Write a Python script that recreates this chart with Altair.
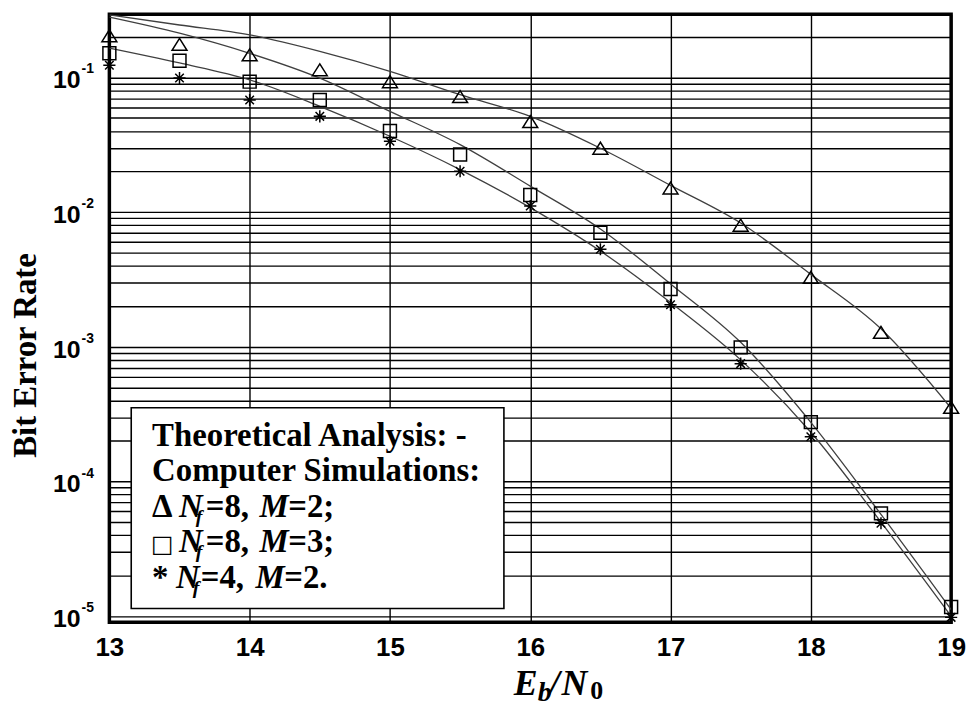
import altair as alt
import pandas as pd

# ---------------- data ----------------
ebn0 = [13, 13.5, 14, 14.5, 15, 15.5, 16, 16.5, 17, 17.5, 18, 18.5, 19]

# theoretical analysis curves
theory_nf8_m2 = [0.291, 0.245, 0.207, 0.156, 0.111, 0.0745, 0.0514, 0.0298,
                 0.0158, 0.0083, 0.00345, 0.00136, 0.00035]
theory_nf8_m3 = [0.28, 0.213, 0.151, 0.0988, 0.056, 0.0317, 0.0156, 0.0075,
                 0.00293, 0.00108, 0.000275, 0.000057, 0.0000112]
theory_nf4_m2 = [0.165, 0.128, 0.096, 0.061, 0.0366, 0.0207, 0.0108, 0.00514,
                 0.00213, 0.00080, 0.000232, 0.000050, 0.0000100]

# computer simulations
sim_nf8_m2 = [0.204, 0.176, 0.147, 0.114, 0.093, 0.072, 0.047, 0.0298,
              0.0151, 0.0080, 0.00328, 0.00128, 0.000355]
sim_nf8_m3 = [0.151, 0.133, 0.093, 0.068, 0.040, 0.0268, 0.0134, 0.00703,
              0.00269, 0.00099, 0.000276, 0.000058, 0.0000117]
sim_nf4_m2 = [0.123, 0.099, 0.068, 0.0514, 0.0336, 0.0201, 0.0111, 0.0053,
              0.00205, 0.00075, 0.000215, 0.000049, 0.0000098]

x_ticks = [13, 14, 15, 16, 17, 18, 19]
y_decades = [1e-1, 1e-2, 1e-3, 1e-4, 1e-5]
y_exponents = ["-1", "-2", "-3", "-4", "-5"]

# ---------------- tables ----------------
theory_df = pd.concat([
    pd.DataFrame({"ebn0": ebn0, "ber": theory_nf8_m2, "curve": "Nf=8, M=2"}),
    pd.DataFrame({"ebn0": ebn0, "ber": theory_nf8_m3, "curve": "Nf=8, M=3"}),
    pd.DataFrame({"ebn0": ebn0, "ber": theory_nf4_m2, "curve": "Nf=4, M=2"}),
])
tri_df = pd.DataFrame({"ebn0": ebn0, "ber": sim_nf8_m2})
sq_df = pd.DataFrame({"ebn0": ebn0, "ber": sim_nf8_m3})
star_df = pd.DataFrame({"ebn0": ebn0, "ber": sim_nf4_m2})
ylab_df = pd.DataFrame({"ber": y_decades, "exp": y_exponents})

W, H = 847, 612
YMIN, YMAX = 9e-6, 0.295
grid_vals = [k * 10.0 ** e for e in range(-5, 0) for k in range(1, 10)
             if YMIN <= k * 10.0 ** e <= YMAX]
grid_vals.append(0.2)

xscale = alt.Scale(domain=[13, 19], nice=False, zero=False)
yscale = alt.Scale(type="log", domain=[YMIN, YMAX], nice=False)

SERIF = "Liberation Serif"
SANS = "Liberation Sans"

x_axis = alt.Axis(values=x_ticks, format="d", grid=True, gridColor="black",
                  gridWidth=1.4, domain=False, ticks=False, labelFlush=False,
                  labelFont=SANS, labelFontWeight="bold", labelFontSize=26,
                  labelColor="black", labelPadding=12, title=None)
y_axis = alt.Axis(values=grid_vals, grid=True, gridColor="black", gridWidth=1.4,
                  domain=False, ticks=False, labels=False,
                  title="Bit Error Rate", titleFont=SERIF, titleFontSize=33,
                  titleFontWeight="bold", titleColor="black",
                  titleX=-84, titleY=343, titleBaseline="middle", titleAlign="center")


def X():
    return alt.X("ebn0:Q", scale=xscale, axis=x_axis)


def Y():
    return alt.Y("ber:Q", scale=yscale, axis=y_axis)


lines = alt.Chart(theory_df).mark_line(
    color="#404040", strokeWidth=1.3, clip=True, interpolate="monotone"
).encode(x=X(), y=Y(), detail="curve:N")

TRI = "M-1,0.8L1,0.8L0,-0.8Z"
STAR = "M0,-1L0,1M-1,0L1,0M-0.7,-0.7L0.7,0.7M-0.7,0.7L0.7,-0.7"


def sim_layer(df, shape, size):
    return alt.Chart(df).mark_point(
        shape=shape, size=size, filled=False, color="black",
        strokeWidth=1.5, opacity=1
    ).encode(x=X(), y=Y())


tri = sim_layer(tri_df, TRI, 225)
sq = sim_layer(sq_df, "square", 169)
star = sim_layer(star_df, STAR, 150)

one = alt.Data(values=[{"k": 1}])

legend_box = alt.Chart(one).mark_rect(
    fill="white", stroke="black", strokeWidth=1.6
).encode(x=alt.value(22), x2=alt.value(397), y=alt.value(396), y2=alt.value(598))


def txt(text, x, y, size, style="normal", font=SERIF, weight="bold", align="left"):
    return alt.Chart(one).mark_text(
        text=text, font=font, fontSize=size, fontStyle=style, fontWeight=weight,
        align=align, baseline="alphabetic", color="black"
    ).encode(x=alt.value(x), y=alt.value(y))


LS = 33
legend_texts = [
    txt("Theoretical Analysis: -", 43, 435, LS),
    txt("Computer Simulations:", 43, 470, LS),
    # line 3
    txt("\u0394", 43, 506, LS),
    txt("N", 70, 506, LS, "italic"),
    txt("f", 87, 512, 20, "italic"),
    txt("=8,", 97, 506, LS),
    txt("M", 151, 506, LS, "italic"),
    txt("=2;", 180, 506, LS),
    # line 4
    txt("\u25A1", 42, 541, 24, font="DejaVu Sans", weight="normal"),
    txt("N", 70, 541, LS, "italic"),
    txt("f", 87, 547, 20, "italic"),
    txt("=8,", 97, 541, LS),
    txt("M", 151, 541, LS, "italic"),
    txt("=3;", 180, 541, LS),
    # line 5
    txt("*", 43, 577, LS),
    txt("N", 67, 577, LS, "italic"),
    txt("f", 84, 583, 20, "italic"),
    txt("=4,", 92, 577, LS),
    txt("M", 147, 577, LS, "italic"),
    txt("=2.", 176, 577, LS),
]

# x-axis title  E_b / N_0
x_title = [
    txt("E", 407, 685, 36, "italic"),
    txt("b", 431, 691, 28, "italic"),
    txt("/", 443, 685, 36, "italic"),
    txt("N", 455, 685, 36, "italic"),
    txt("0", 484, 689, 26),
]

# y tick labels 10^k
ybase = alt.Chart(ylab_df).mark_text(
    text="10", align="right", baseline="middle", font=SANS, fontWeight="bold",
    fontSize=25, dy=3, color="black"
).encode(x=alt.value(-29), y=Y())
yexp = alt.Chart(ylab_df).mark_text(
    align="left", baseline="middle", font=SANS, fontWeight="bold",
    fontSize=14, dy=-8, color="black"
).encode(x=alt.value(-28), y=Y(), text="exp:N")

chart = alt.layer(
    lines, tri, sq, star, legend_box, *legend_texts, *x_title, ybase, yexp
).properties(
    width=W, height=H,
    padding={"left": 102, "top": 4, "right": 20, "bottom": 84},
    autosize=alt.AutoSizeParams(type="none"),
).configure(background="white").configure_view(stroke="black", strokeWidth=3.5)

chart.save("out.html", embed_options={"renderer": "svg", "actions": False})
